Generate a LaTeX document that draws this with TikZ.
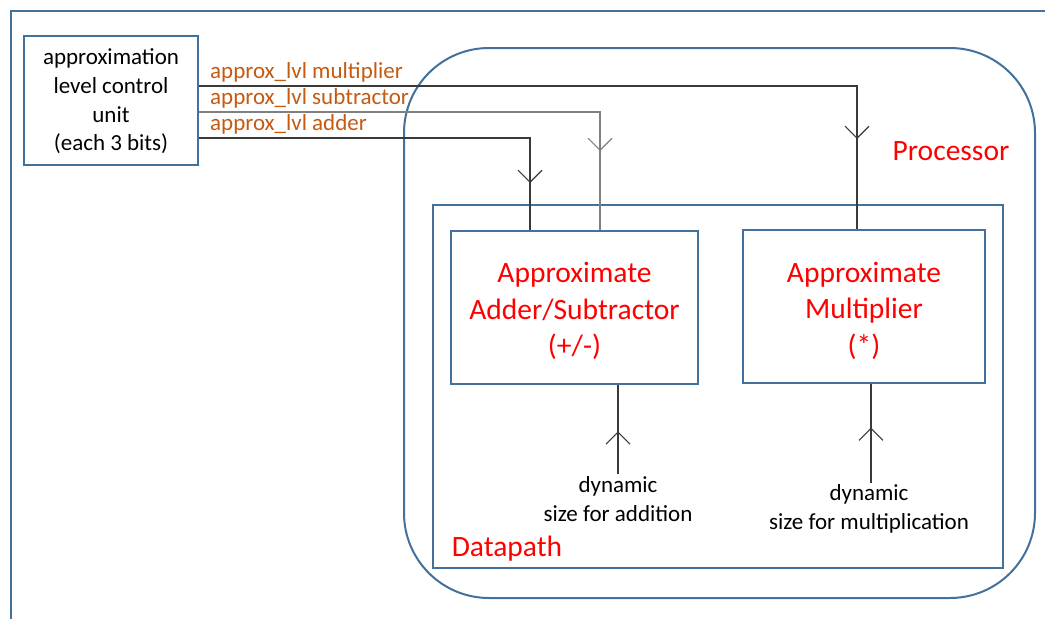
\documentclass[tikz,border=0pt]{standalone}
\usepackage{fontspec}
\setmainfont{Carlito}
\usetikzlibrary{arrows.meta,decorations.markings}

\definecolor{frameblue}{HTML}{41719C}
\definecolor{lvlorange}{HTML}{C55A11}
\definecolor{wiregray}{HTML}{3A3A3A}

\tikzset{
  blueline/.style={draw=frameblue, line width=2pt},
  unitbox/.style={blueline, fill=white, inner sep=0pt, align=center},
  areabox/.style={blueline, inner sep=0pt},
  bigred/.style={text=red, font=\fontsize{29.5}{36.5}\selectfont, align=center},
  plain/.style={font=\fontsize{23}{28.7}\selectfont, align=center, inner sep=2pt},
  lvl/.style={text=lvlorange, font=\fontsize{23}{28}\selectfont, anchor=base west, inner sep=0pt},
  wire/.style={draw=wiregray, line width=1.1pt},
  midarrow/.style={postaction={decorate}, decoration={markings,
      mark=at position #1 with {\arrow{Straight Barb[length=12pt,width=24pt,line width=1.1pt]}}}}
}

\begin{document}
\begin{tikzpicture}[x=1pt,y=-1pt]
  \useasboundingbox[fill=white] (0,0) rectangle (1045,619);

  % partial outer frame
  \draw[blueline] (10,11) -- (1045,11);
  \draw[blueline] (11,11) -- (11,619);

  % containers
  \node[areabox, rounded corners=85pt, minimum width=631pt, minimum height=550pt] (proc) at (719.5,323) {};
  \node[areabox, minimum width=570pt, minimum height=363pt] (dp) at (718,386.5) {};
  \node[bigred] (proclbl) at (951,151) {Processor};
  \node[bigred] (dplbl) at (507,549) {Datapath};

  % functional units
  \node[unitbox, minimum width=174pt, minimum height=129pt] (cu) at (111,100.5) {};
  \node[plain] (cutxt) at (111,101.5) {approximation\\ level control\\ unit\\ (each 3 bits)};
  \node[unitbox, minimum width=247pt, minimum height=153pt] (add) at (574.5,307.5) {};
  \node[bigred] (addtxt) at (574.5,311) {Approximate\\ Adder/Subtractor\\ (+/-)};
  \node[unitbox, minimum width=242pt, minimum height=153pt] (mul) at (864,306.5) {};
  \node[bigred] (multxt) at (864,310.5) {Approximate\\ Multiplier\\ (*)};

  % approximation level buses
  \draw[wire, midarrow=-90pt] ([yshift=14.5pt]cu.east) -| ([xshift=-7pt]mul.north);
  \draw[wire, draw=gray, midarrow=-79pt] ([yshift=-11.5pt]cu.east) -| ([xshift=25.5pt]add.north);
  \draw[wire, midarrow=-47pt] ([yshift=-37.5pt]cu.east) -| ([xshift=-44.5pt]add.north);

  \node[lvl] (lvlmul) at (210,78) {approx\_lvl multiplier};
  \node[lvl] (lvlsub) at (210,104) {approx\_lvl subtractor};
  \node[lvl] (lvladd) at (210,130) {approx\_lvl adder};

  % dynamic size inputs
  \node[plain] (adddyn) at (618,499) {dynamic\\ size for addition};
  \node[plain] (muldyn) at (869,509) {dynamic\\ size for multiplication};
  \coordinate (addin) at ([xshift=43.5pt]add.south);
  \coordinate (mulin) at ([xshift=7pt]mul.south);
  \draw[wire, midarrow=43pt] (adddyn.north -| addin) -- (addin);
  \draw[wire, midarrow=55pt] (muldyn.north -| mulin) -- (mulin);
\end{tikzpicture}
\end{document}
